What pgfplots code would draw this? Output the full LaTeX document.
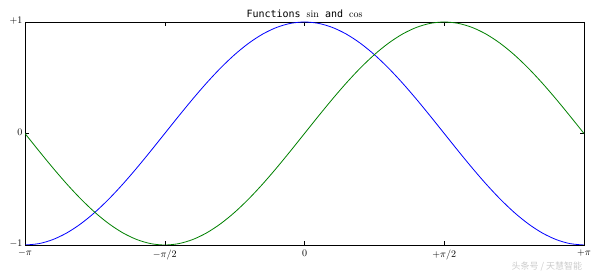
\documentclass[border=0pt]{standalone}
\usepackage{pgfplots}
\pgfplotsset{compat=1.18}
\usepackage{fontspec}
\newfontfamily\monofont{DejaVu Sans Mono}
\newfontfamily\cjk{Noto Sans CJK SC}
\pgfplotstableread{
x cos sin
-3.14159 -1 0
-2.98451 -0.98769 -0.15643
-2.82743 -0.95106 -0.30902
-2.67035 -0.89101 -0.45399
-2.51327 -0.80902 -0.58779
-2.35619 -0.70711 -0.70711
-2.19911 -0.58779 -0.80902
-2.04204 -0.45399 -0.89101
-1.88496 -0.30902 -0.95106
-1.72788 -0.15643 -0.98769
-1.57080 0 -1
-1.41372 0.15643 -0.98769
-1.25664 0.30902 -0.95106
-1.09956 0.45399 -0.89101
-0.94248 0.58779 -0.80902
-0.78540 0.70711 -0.70711
-0.62832 0.80902 -0.58779
-0.47124 0.89101 -0.45399
-0.31416 0.95106 -0.30902
-0.15708 0.98769 -0.15643
0 1 0
0.15708 0.98769 0.15643
0.31416 0.95106 0.30902
0.47124 0.89101 0.45399
0.62832 0.80902 0.58779
0.78540 0.70711 0.70711
0.94248 0.58779 0.80902
1.09956 0.45399 0.89101
1.25664 0.30902 0.95106
1.41372 0.15643 0.98769
1.57080 0 1
1.72788 -0.15643 0.98769
1.88496 -0.30902 0.95106
2.04204 -0.45399 0.89101
2.19911 -0.58779 0.80902
2.35619 -0.70711 0.70711
2.51327 -0.80902 0.58779
2.67035 -0.89101 0.45399
2.82743 -0.95106 0.30902
2.98451 -0.98769 0.15643
3.14159 -1 0
}\datatable
\definecolor{mplgreen}{RGB}{0,128,0}
\begin{document}
\begin{tikzpicture}
\useasboundingbox (-25pt,-28pt) rectangle (573pt,245pt);
\begin{axis}[
  at={(0,0)}, anchor=south west,
  scale only axis, width=559pt, height=223pt,
  xmin=-3.14159, xmax=3.14159, ymin=-1, ymax=1,
  xtick={-3.14159,-1.57080,0,1.57080,3.14159},
  xticklabels={$-\pi$,$-\pi/2$,$0$,$+\pi/2$,$+\pi$},
  ytick={-1,0,1},
  yticklabels={$-1$,$0$,$+1$},
  tick style={black, line width=0.5pt},
  major tick length=4pt,
  tick label style={font=\normalsize},
  xticklabel style={yshift=-1.5pt},
  yticklabel style={xshift=1pt, yshift=1pt},
  axis line style={line width=0.8pt},
  title={\monofont Functions $\sin$ and $\cos$},
  title style={font=\normalsize, yshift=-5pt},
  clip=true,
]
\addplot[blue, line width=0.8pt, smooth] table[x=x, y=cos] {\datatable};
\addplot[mplgreen, line width=0.8pt, smooth] table[x=x, y=sin] {\datatable};
\end{axis}
\node[anchor=west, text=black!20, font=\cjk\small] at (483pt,-22pt) {头条号 / 天慧智能};
\end{tikzpicture}
\end{document}
